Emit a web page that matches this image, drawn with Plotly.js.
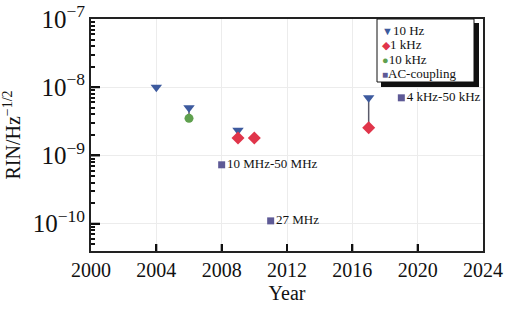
<!DOCTYPE html>
<html>
<head>
<meta charset="utf-8">
<script src="https://cdn.plot.ly/plotly-3.0.1.min.js"></script>
<style>html,body{margin:0;padding:0;background:#fff;}#chart{width:507px;height:311px;}</style>
</head>
<body>
<div id="chart"></div>
<script>
// Data
const hz10Years = [2004, 2006, 2009, 2017];
const hz10Values = [1.0e-8, 5.0e-9, 2.35e-9, 7.0e-9];

const khz1Years = [2009, 2010, 2017];
const khz1Values = [1.8e-9, 1.8e-9, 2.55e-9];

const khz10Years = [2006];
const khz10Values = [3.5e-9];

const acYears = [2008, 2011, 2019];
const acValues = [7.3e-10, 1.1e-10, 7.0e-9];
const acLabels = ["10 MHz-50 MHz", "27 MHz", "4 kHz-50 kHz"];

// Vertical connectors between 10 Hz and the lower-frequency value of the same work
const linkYears = [2006, 2009, 2017];
const linkTop = [5.0e-9, 2.35e-9, 7.0e-9];
const linkBottom = [3.5e-9, 1.8e-9, 2.55e-9];

const xTicks = [2000, 2004, 2008, 2012, 2016, 2020, 2024];
const yMajorTicks = [1e-10, 1e-9, 1e-8, 1e-7];
const decades = [-11, -10, -9, -8];
const minorMultipliers = [2, 3, 4, 5, 6, 7, 8, 9];

const legendNames = ["10 Hz", "1 kHz", "10 kHz", "AC-coupling"];
const legendGlyphs = ["▼", "◆", "●", "■"];
const legendColors = ["#3d5a9e", "#e0354a", "#5fa04e", "#5e5a96"];

const FONT = "'Liberation Serif', 'Times New Roman', serif";
const traces = [];

linkYears.forEach((yr, i) => {
  traces.push({
    x: [yr, yr], y: [linkTop[i], linkBottom[i]],
    mode: "lines", line: {color: "#5a5a6a", width: 1.5},
    showlegend: false, hoverinfo: "skip"
  });
});

traces.push({
  x: hz10Years, y: hz10Values, name: legendNames[0], mode: "markers",
  marker: {symbol: "triangle-down", size: 10, color: legendColors[0]}
});
traces.push({
  x: khz1Years, y: khz1Values, name: legendNames[1], mode: "markers",
  marker: {symbol: "diamond", size: 10, color: legendColors[1]}
});
traces.push({
  x: khz10Years, y: khz10Values, name: legendNames[2], mode: "markers",
  marker: {symbol: "circle", size: 9, color: legendColors[2]}
});
traces.push({
  x: acYears, y: acValues, name: legendNames[3], mode: "markers+text",
  text: acLabels, textposition: "middle right",
  textfont: {family: FONT, size: 13, color: "#111"},
  marker: {symbol: "square", size: 7, color: legendColors[3]}
});

const minorTicks = [];
decades.forEach(d => minorMultipliers.forEach(m => minorTicks.push(m * Math.pow(10, d))));

// custom compact legend (box + shadow + entries)
const plotL = 91, plotW = 392, plotT = 19, plotH = 232;
const px = v => (v - plotL) / plotW;
const py = v => (plotT + plotH - v) / plotH;

const legendRows = [30, 44.5, 59, 73.5];
const annotations = legendNames.map((nm, i) => ({
  xref: "paper", yref: "paper", x: px(380), y: py(legendRows[i]),
  xanchor: "left", yanchor: "middle", showarrow: false,
  text: '<span style="color:' + legendColors[i] + ';font-size:' + (i === 3 ? 10 : 11) + 'px">' + legendGlyphs[i] + '</span>' + nm,
  font: {family: FONT, size: 13, color: "#111"}
}));

const layout = {
  width: 507, height: 311,
  margin: {l: plotL, r: 507 - plotL - plotW, t: plotT, b: 311 - plotT - plotH},
  paper_bgcolor: "#fff", plot_bgcolor: "#fff",
  font: {family: FONT, color: "#111", size: 18},
  showlegend: false,
  xaxis: {
    range: [2000, 2024], tickvals: xTicks, ticktext: xTicks.map(String),
    showline: true, linecolor: "#222", linewidth: 2, mirror: true,
    ticks: "inside", ticklen: 7, tickcolor: "#111", tickwidth: 2,
    showgrid: true, gridcolor: "#ececec", zeroline: false,
    tickfont: {family: FONT, size: 20},
    title: {text: "Year", font: {family: FONT, size: 20}, standoff: 6}
  },
  yaxis: {
    type: "log", range: [-10.4, -7], dtick: 1, exponentformat: "power",
    showline: true, linecolor: "#222", linewidth: 2, mirror: true,
    ticks: "inside", ticklen: 9, tickcolor: "#111", tickwidth: 2,
    minor: {ticks: "inside", ticklen: 4, tickcolor: "#111"},
    showgrid: true, gridcolor: "#ececec", zeroline: false,
    tickfont: {family: FONT, size: 20},
    title: {text: "RIN/Hz<sup>−1/2</sup>", font: {family: FONT, size: 20}, standoff: 8}
  },
  shapes: [
    {type: "rect", xref: "paper", yref: "paper", layer: "above",
     x0: px(381), x1: px(479), y0: py(87), y1: py(23),
     fillcolor: "#111", line: {width: 0}},
    {type: "rect", xref: "paper", yref: "paper", layer: "above",
     x0: px(377), x1: px(474), y0: py(82), y1: py(19),
     fillcolor: "#fff", line: {color: "#111", width: 1}}
  ],
  annotations: annotations
};

Plotly.newPlot("chart", traces, layout, {displayModeBar: false, staticPlot: true}).then(gd => {
  // make sure the inward axis ticks are painted on top, placed with the axes' own scales
  const fl = gd._fullLayout, xa = fl.xaxis, ya = fl.yaxis;
  const svg = gd.querySelector(".main-svg");
  const NS = "http://www.w3.org/2000/svg";
  const g = document.createElementNS(NS, "g");
  const seg = (x1, y1, x2, y2, w) => {
    const l = document.createElementNS(NS, "line");
    l.setAttribute("x1", x1); l.setAttribute("y1", y1);
    l.setAttribute("x2", x2); l.setAttribute("y2", y2);
    l.setAttribute("stroke", "#111"); l.setAttribute("stroke-width", w);
    g.appendChild(l);
  };
  const x0 = xa._offset, yBottom = ya._offset + ya._length;
  xTicks.forEach(t => {
    const p = xa._offset + xa.c2p(t);
    if (p > x0 + 2 && p < x0 + xa._length - 2) seg(p, yBottom, p, yBottom - 7, 2);
  });
  const inY = p => p > ya._offset + 1 && p < yBottom - 1;
  yMajorTicks.forEach(v => {
    const p = ya._offset + ya.c2p(v);
    if (inY(p)) seg(x0, p, x0 + 9, p, 2);
  });
  minorTicks.forEach(v => {
    const p = ya._offset + ya.c2p(v);
    if (inY(p)) seg(x0, p, x0 + 4, p, 1);
  });
  svg.appendChild(g);
});
</script>
</body>
</html>
